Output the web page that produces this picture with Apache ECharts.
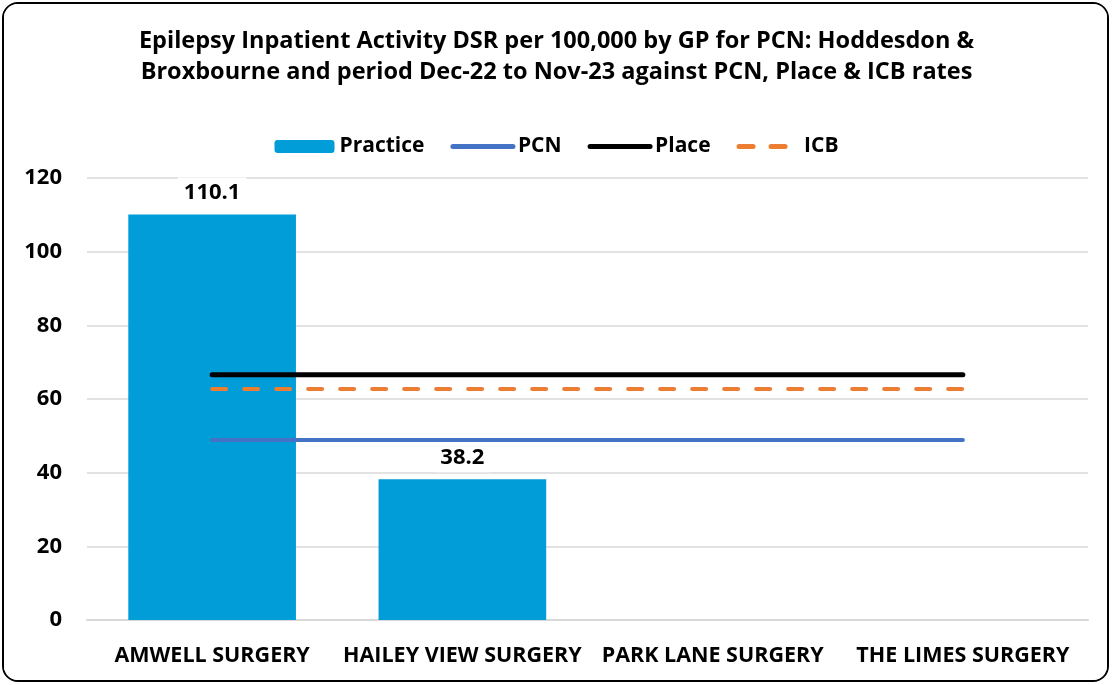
<!DOCTYPE html>
<html><head><meta charset="utf-8">
<script src="https://cdn.jsdelivr.net/npm/echarts@6/dist/echarts.min.js"></script>
<style>
html,body{margin:0;padding:0;background:#fff;}
#wrap{position:absolute;left:2px;top:2px;width:1107px;height:680px;border:2px solid #000;border-radius:16px;box-sizing:border-box;overflow:hidden;}
#c{position:absolute;left:-4px;top:-4px;width:1113px;height:685px;}
</style></head>
<body>
<div id="wrap"><div id="c"></div></div>
<script>
const categories = ["AMWELL SURGERY","HAILEY VIEW SURGERY","PARK LANE SURGERY","THE LIMES SURGERY"];
const practice = [110.1, 38.2, null, null];
const pcn = [48.9, 48.9, 48.9, 48.9];
const place = [66.6, 66.6, 66.6, 66.6];
const icb = [62.7, 62.7, 62.7, 62.7];
const yTicks = [0, 20, 40, 60, 80, 100, 120];

const FONT = '"Open Sans","Noto Sans",sans-serif';
const chart = echarts.init(document.getElementById('c'), null, {renderer:'canvas'});
chart.setOption({
  animation:false,
  backgroundColor:'#fff',
  title:{
    text:'Epilepsy Inpatient Activity DSR per 100,000 by GP for PCN: Hoddesdon &\nBroxbourne and period Dec-22 to Nov-23 against PCN, Place & ICB rates',
    left:'center', top:21,
    textStyle:{fontFamily:FONT,fontWeight:'bold',fontSize:23.5,color:'#000',lineHeight:31}
  },
  legend:{
    top:131, left:'center', itemWidth:60, itemHeight:13, itemGap:26,
    textStyle:{fontFamily:FONT,fontWeight:'bold',fontSize:21,color:'#000',padding:[0,0,0,0]},
    data:[
      {name:'Practice'},
      {name:'PCN',itemStyle:{opacity:0},lineStyle:{width:5}},
      {name:'Place',itemStyle:{opacity:0},lineStyle:{width:5}},
      {name:'ICB',itemStyle:{opacity:0},lineStyle:{width:5}}
    ]
  },
  grid:{left:87,right:25,top:178,bottom:65,containLabel:false},
  xAxis:{
    type:'category', data:categories,
    axisLine:{show:true,lineStyle:{color:'#d9d9d9',width:2}},
    axisTick:{show:false},
    axisLabel:{fontFamily:FONT,fontWeight:'bold',fontSize:21.5,color:'#000',margin:25,interval:0}
  },
  yAxis:{
    type:'value', min:yTicks[0], max:yTicks[yTicks.length-1], interval:20,
    axisLine:{show:false}, axisTick:{show:false},
    splitLine:{lineStyle:{color:'#d9d9d9',width:1.5}},
    axisLabel:{fontFamily:FONT,fontWeight:'bold',fontSize:22,color:'#000',margin:25}
  },
  series:[
    {name:'Practice',type:'bar',data:practice,barWidth:'67%',itemStyle:{color:'#009dd9'},z:1,
     label:{show:true,position:'top',distance:7,fontFamily:FONT,fontWeight:'bold',fontSize:22,color:'#000',
       backgroundColor:'#fff',padding:[4,6,4,6]}},
    {name:'PCN',type:'line',data:pcn,symbol:'none',lineStyle:{color:'#4472c4',width:4,cap:'round'},itemStyle:{color:'#4472c4'},z:2},
    {name:'Place',type:'line',data:place,symbol:'none',lineStyle:{color:'#000',width:5,cap:'round'},itemStyle:{color:'#000'},z:2},
    {name:'ICB',type:'line',data:icb,symbol:'none',lineStyle:{color:'#ed7d31',width:4,type:[14,18],cap:'round'},itemStyle:{color:'#ed7d31'},z:2}
  ]
});
</script>
</body></html>
